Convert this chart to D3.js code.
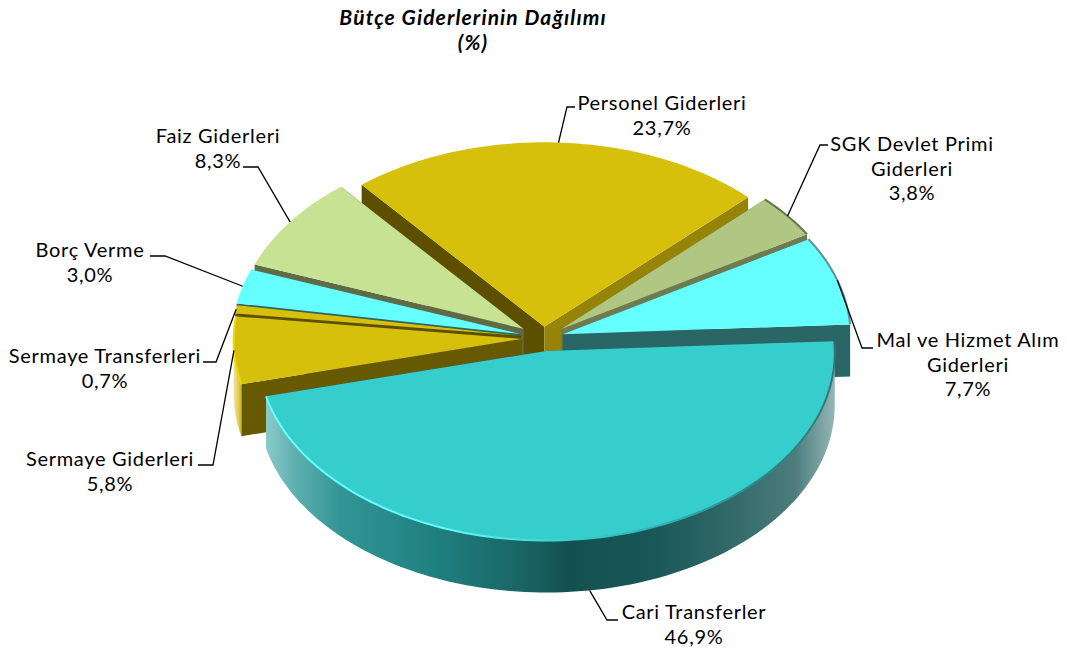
<!DOCTYPE html>
<html>
<head>
<meta charset="utf-8">
<script src="https://cdn.jsdelivr.net/npm/d3@7"></script>
<style>
html, body { margin: 0; padding: 0; background: #fff; }
svg { display: block; }
text { font-family: "Century Gothic", Lato, "Open Sans", sans-serif; fill: #000; text-anchor: middle; }
.label { font-size: 20px; letter-spacing: 0.7px; }
.title { font-size: 21px; font-weight: bold; font-style: italic; letter-spacing: 1.1px; }
</style>
</head>
<body>
<svg id="chart" width="1067" height="655"></svg>
<script>
// chart values
var categories = ['Cari Transferler', 'Sermaye Giderleri', 'Sermaye Transferleri', 'Borç Verme', 'Faiz Giderleri', 'Personel Giderleri', 'SGK Devlet Primi Giderleri', 'Mal ve Hizmet Alım Giderleri'];
var shares = [46.9, 5.8, 0.7, 3.0, 8.3, 23.7, 3.8, 7.7];
var labelLines = [['Cari Transferler'], ['Sermaye Giderleri'], ['Sermaye Transferleri'], ['Borç Verme'], ['Faiz Giderleri'], ['Personel Giderleri'], ['SGK Devlet Primi', 'Giderleri'], ['Mal ve Hizmet Alım', 'Giderleri']];
var titleLines = ['Bütçe Giderlerinin Dağılımı', '(%)'];

// slice colours
var topColors = ['#36cdcd', '#d6c00c', '#d6c00c', '#66ffff', '#c6e292', '#d6c00c', '#b0c783', '#66ffff'];
var startWallColors = ['#1c6a6a', '#665900', '#5c5000', '#2a6666', '#5f6b45', '#5c5000', '#6f7a50', '#2a6666'];
var endWallColors = ['#1c6a6a', '#665900', '#5c5000', '#2a6666', '#5f6b45', '#958407', '#6f7a50', '#2a6666'];

// how far each slice is pulled out, as a share of the radius of 1
var explode = [0.07, 0.076, 0.08, 0.084, 0.085, 0.06, 0.078, 0.07];

// label layout: text centre, first baseline, and the two outer points of the leader
var labelX = [694, 110, 105, 90, 218, 662, 912, 968];
var labelY = [619, 466, 363, 257, 143, 110, 151, 347];
var leaderEnd = [[618, 620], [198, 465], [203, 362], [150, 256], [243, 167], [575, 107], [828, 145], [873, 348]];
var leaderElbow = [[607, 620], [213, 465], [216, 362], [165, 256], [258, 167], [567, 107], [820, 145], [862, 348]];

var svg = d3.select('#chart');
var width = +svg.attr('width');

var cx = 543.5, cy = 338;
var rx = 288, ry = 187;
var wallHeight = 52;
var perspective = 0.012;
var toRad = Math.PI / 180;

var xScale = d3.scaleLinear().domain([-1, 1]).range([cx - rx, cx + rx]);
var yScale = d3.scaleLinear().domain([-1, 1]).range([cy - ry, cy + ry]);

var pie = d3.pie().sort(null).value(d => d).startAngle(87 * toRad).endAngle(447 * toRad);
var line = d3.line();

// project a point of the unit disc (angle clockwise from top) on to the page
function project(angle, r, slice) {
    var mid = (slice.startAngle + slice.endAngle) / 2;
    var e = explode[slice.index];
    var ux = r * Math.sin(angle) + e * Math.sin(mid);
    var uy = -r * Math.cos(angle) - e * Math.cos(mid);
    var p = 1 + perspective * uy;
    return [xScale(ux * p), yScale(uy * p)];
}

function rim(a0, a1, slice) {
    var n = Math.max(2, Math.ceil((a1 - a0) / (toRad * 1.5)));
    return d3.range(n + 1).map(i => project(a0 + (a1 - a0) * i / n, 1, slice));
}

function drop(points) {
    return points.map(p => [p[0], p[1] + wallHeight]).reverse();
}

var defs = svg.append('defs');

function addGradient(id, stops) {
    var g = defs.append('linearGradient').attr('id', id).attr('x1', 0).attr('x2', 1).attr('y1', 0).attr('y2', 0);
    stops.forEach(s => g.append('stop').attr('offset', s[0]).attr('stop-color', s[1]));
}

addGradient('cariWall', [[0, '#8ccaca'], [0.05, '#5fb0b0'], [0.13, '#329595'], [0.3, '#1f7f7f'], [0.45, '#1a6565'], [0.53, '#145050'], [0.68, '#195858'], [0.8, '#2f6666'], [0.93, '#4c7c7c'], [1, '#94b6b6']]);
addGradient('cariRim', [[0, '#66ffff'], [0.3, '#66ffff'], [0.42, '#4ce8e8'], [0.55, '#36cdcd'], [0.85, '#2a9090'], [1, '#3d7272']]);
addGradient('goldWall', [[0, '#efe4a0'], [0.6, '#e2cf5c'], [1, '#c9b228']]);

defs.append('filter').attr('id', 'soft')
    .append('feGaussianBlur').attr('stdDeviation', 0.7);

var outerWallFill = ['url(#cariWall)', 'url(#goldWall)'];
var rimColors = ['url(#cariRim)', '#f2d800', null, null, null, null, '#6b7350', '#5f9090'];

var arcs = pie(shares);

// back slices first so that the front ones paint over them
var drawOrder = arcs.slice().sort((a, b) =>
    d3.descending(Math.cos((a.startAngle + a.endAngle) / 2), Math.cos((b.startAngle + b.endAngle) / 2)));

var pieG = svg.append('g').attr('class', 'pie');

drawOrder.forEach(function(d) {
    var g = pieG.append('g').attr('class', 'slice');
    var apex = project(0, 0, d);
    var a = project(d.startAngle, 1, d);
    var b = project(d.endAngle, 1, d);

    // the two cut faces
    [[a, startWallColors[d.index]], [b, endWallColors[d.index]]].forEach(function(w) {
        var edge = [apex, w[0]];
        g.append('path')
            .attr('d', line(edge.concat(drop(edge))) + 'Z')
            .attr('fill', w[1]);
    });

    // outer wall, only the part that faces the viewer
    var a0 = Math.max(d.startAngle, 90 * toRad);
    var a1 = Math.min(d.endAngle, 270 * toRad);
    if (a1 > a0) {
        var front = rim(a0, a1, d);
        g.append('path')
            .attr('d', line(front.concat(drop(front))) + 'Z')
            .attr('fill', outerWallFill[d.index] || endWallColors[d.index]);
    }

    // top face
    var arcPoints = rim(d.startAngle, d.endAngle, d);
    g.append('path')
        .attr('d', line([apex].concat(arcPoints)) + 'Z')
        .attr('fill', topColors[d.index]);

    // bevel along the rim
    if (rimColors[d.index]) {
        g.append('path')
            .attr('d', line(arcPoints))
            .attr('fill', 'none')
            .attr('stroke', rimColors[d.index])
            .attr('stroke-width', 2)
            .attr('filter', 'url(#soft)');
    }
});

// leaders
var leaderG = svg.append('g').attr('class', 'leaders');
arcs.forEach(function(d, i) {
    var mid = (d.startAngle + d.endAngle) / 2;
    var anchor = project(mid, 1, d);
    // the bottom slice is labelled from the foot of its wall
    if (Math.cos(mid) < -0.5) anchor = [anchor[0], anchor[1] + wallHeight];
    leaderG.append('path')
        .attr('d', line([leaderEnd[i], leaderElbow[i], anchor]))
        .attr('fill', 'none')
        .attr('stroke', '#000')
        .attr('stroke-width', 1.3);
});

// labels
var lineHeight = 24.5;
var labelG = svg.append('g').attr('class', 'labels');
arcs.forEach(function(d, i) {
    var rows = labelLines[i].concat([String(shares[i].toFixed(1)).replace('.', ',') + '%']);
    rows.forEach(function(row, j) {
        labelG.append('text')
            .attr('class', 'label')
            .attr('x', labelX[i])
            .attr('y', labelY[i] + j * lineHeight)
            .text(row);
    });
});

// title
titleLines.forEach(function(row, j) {
    svg.append('text')
        .attr('class', 'title')
        .attr('x', 473)
        .attr('y', 25 + j * 25)
        .text(row);
});
</script>
</body>
</html>
